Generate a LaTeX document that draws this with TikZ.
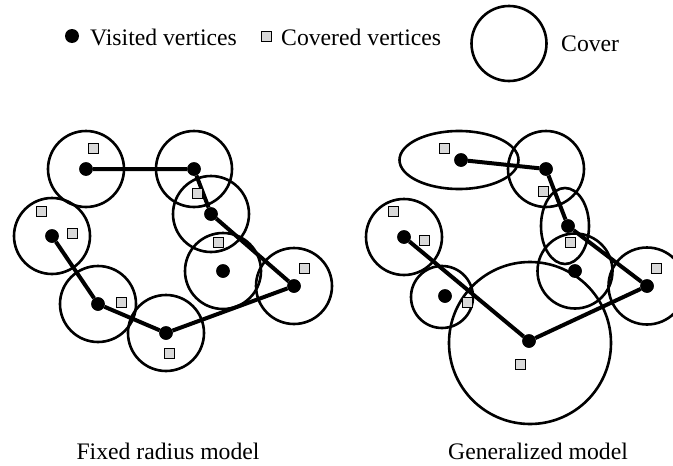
\documentclass[tikz,border=0pt]{standalone}
\usepackage{fontspec}
\setmainfont{Liberation Serif}
\begin{document}
\begin{tikzpicture}[x=1pt,y=-1pt,
    visited/.style={circle,fill=black,inner sep=0pt,minimum size=13.5pt},
    covered/.style={draw,fill=black!15,inner sep=0pt,minimum size=10pt,line width=1pt},
    cover/.style={line width=2.6pt},
    tour/.style={line width=4pt},
    legendtext/.style={font=\fontsize{23.7}{27}\selectfont,inner sep=0pt}]
    \useasboundingbox (0,0) rectangle (673,466);

    % legend
    \node[visited,minimum size=14pt] (lv) at (72,36) {};
    \node[legendtext,anchor=base west] (lvt) at (90,45) {Visited vertices};
    \node[covered] (lc) at (266,36) {};
    \node[legendtext,anchor=base west] (lct) at (281,45) {Covered vertices};
    \coordinate (lcov) at (509,43.5);
    \draw[cover] (lcov) circle[radius=37.5pt];
    \node[legendtext,anchor=base west] (lcovt) at (561,51.5) {Cover};

    % fixed radius model
    \node[visited] (fa) at (86,169) {};
    \node[visited] (fb) at (194,169) {};
    \node[visited] (fc) at (211,214) {};
    \node[visited] (fd) at (223,271) {};
    \node[visited] (fe) at (294,286) {};
    \node[visited] (ff) at (166,333) {};
    \node[visited] (fg) at (98,304) {};
    \node[visited] (fh) at (52,236) {};
    \foreach \v in {fa,fb,fc,fd,fe,ff,fg,fh}
        \draw[cover] (\v) circle[radius=38pt];
    \draw[tour] (fa) -- (fb) -- (fc) -- (fe) -- (ff) -- (fg) -- (fh) -- cycle;
    \foreach \v in {fa,fb,fc,fd,fe,ff,fg,fh}
        \node[visited] at (\v) {};
    \node[covered] (fs1) at (93,148) {};
    \node[covered] (fs2) at (197,193) {};
    \node[covered] (fs3) at (41,211) {};
    \node[covered] (fs4) at (72,233) {};
    \node[covered] (fs5) at (218,242) {};
    \node[covered] (fs6) at (304,268) {};
    \node[covered] (fs7) at (121,302) {};
    \node[covered] (fs8) at (169,353) {};
    \node[legendtext,anchor=base] (fcap) at (168,459) {Fixed radius model};

    % generalized model
    \node[visited] (ga) at (461,160) {};
    \node[visited] (gb) at (546,169) {};
    \node[visited] (gc) at (568,226) {};
    \node[visited] (gd) at (575,271) {};
    \node[visited] (ge) at (647,286) {};
    \node[visited] (gf) at (529,341) {};
    \node[visited] (gg) at (445,296) {};
    \node[visited] (gh) at (404,237) {};
    \draw[cover] (459,160) ellipse[x radius=59.5pt,y radius=29pt];
    \draw[cover] (gb) circle[radius=38pt];
    \draw[cover] (565,226) ellipse[x radius=24pt,y radius=38pt];
    \draw[cover] (gd) circle[radius=37.5pt];
    \draw[cover] (ge) circle[radius=38.5pt];
    \draw[cover] (530,343) circle[radius=81pt];
    \draw[cover] (442,297) circle[radius=31pt];
    \draw[cover] (gh) circle[radius=38pt];
    \draw[tour] (ga) -- (gb) -- (gc) -- (ge) -- (gf) -- (gh) -- cycle;
    \foreach \v in {ga,gb,gc,gd,ge,gf,gg,gh}
        \node[visited] at (\v) {};
    \node[covered] (gs1) at (444,148) {};
    \node[covered] (gs2) at (543,191) {};
    \node[covered] (gs3) at (393,211) {};
    \node[covered] (gs4) at (424,240) {};
    \node[covered] (gs5) at (570,242) {};
    \node[covered] (gs6) at (656,268) {};
    \node[covered] (gs7) at (467,302) {};
    \node[covered] (gs8) at (520,364) {};
    \node[legendtext,anchor=base west] (gcap) at (448,459) {Generalized model};
\end{tikzpicture}
\end{document}
